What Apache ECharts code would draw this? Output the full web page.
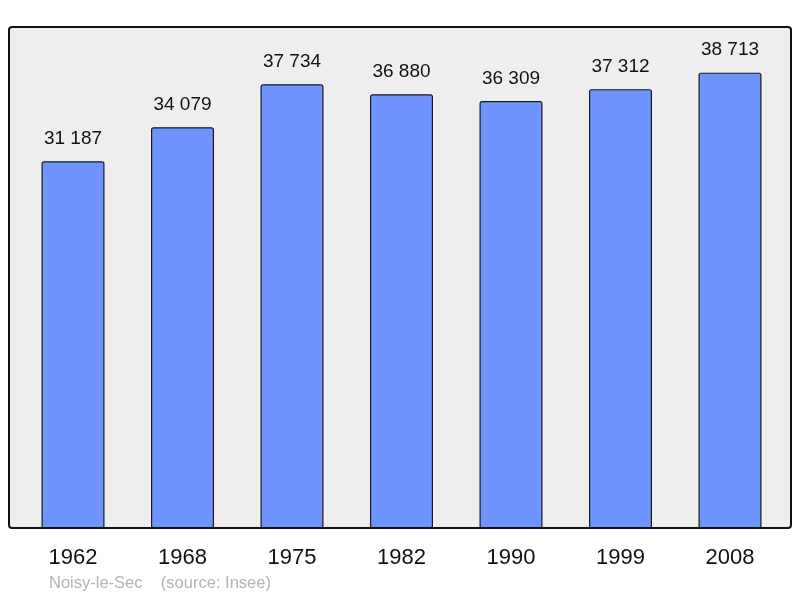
<!DOCTYPE html>
<html><head><meta charset="utf-8">
<script src="https://cdn.jsdelivr.net/npm/echarts@6/dist/echarts.min.js"></script>
<style>html,body{margin:0;padding:0;background:#fff}#c{width:800px;height:598px}</style>
</head><body><div id="c"></div>
<script>
const years = ['1962','1968','1975','1982','1990','1999','2008'];
const population = [31187, 34079, 37734, 36880, 36309, 37312, 38713];
const footer = 'Noisy-le-Sec    (source: Insee)';

const fmt = v => String(v).replace(/\B(?=(\d{3})+(?!\d))/g, ' ');
const chart = echarts.init(document.getElementById('c'), null, {renderer: 'canvas'});
chart.setOption({
  animation: false,
  backgroundColor: '#ffffff',
  graphic: [
    {type: 'rect', z: -10, shape: {x: 9, y: 27, width: 782, height: 501, r: 3},
     style: {fill: '#eeeeee', stroke: 'none'}},
    {type: 'rect', z: 100, shape: {x: 9, y: 27, width: 782, height: 501, r: 3},
     style: {fill: 'none', stroke: '#111111', lineWidth: 2}},
    {type: 'text', left: 49, top: 575,
     style: {text: footer, fill: '#b3b3b3', font: '16.5px "Liberation Sans", Arial, sans-serif'}}
  ],
  grid: {left: 18.25, right: 15.25, top: 28, bottom: 69, containLabel: false},
  xAxis: {
    type: 'category', data: years,
    axisLine: {show: false}, axisTick: {show: false},
    axisLabel: {color: '#111', fontSize: 22, margin: 18, fontFamily: '"Liberation Sans", Arial, sans-serif'}
  },
  yAxis: {
    type: 'value', min: 0, max: 42500,
    show: false, splitLine: {show: false}
  },
  series: [{
    type: 'bar', data: population, barWidth: 63,
    itemStyle: {color: '#7094ff', borderColor: '#1a1a1a', borderWidth: 1.2, borderRadius: 2},
    label: {show: true, position: 'top', distance: 13, color: '#111', fontSize: 19,
      fontFamily: '"Liberation Sans", Arial, sans-serif',
      formatter: p => fmt(p.value)}
  }]
});
</script></body></html>
